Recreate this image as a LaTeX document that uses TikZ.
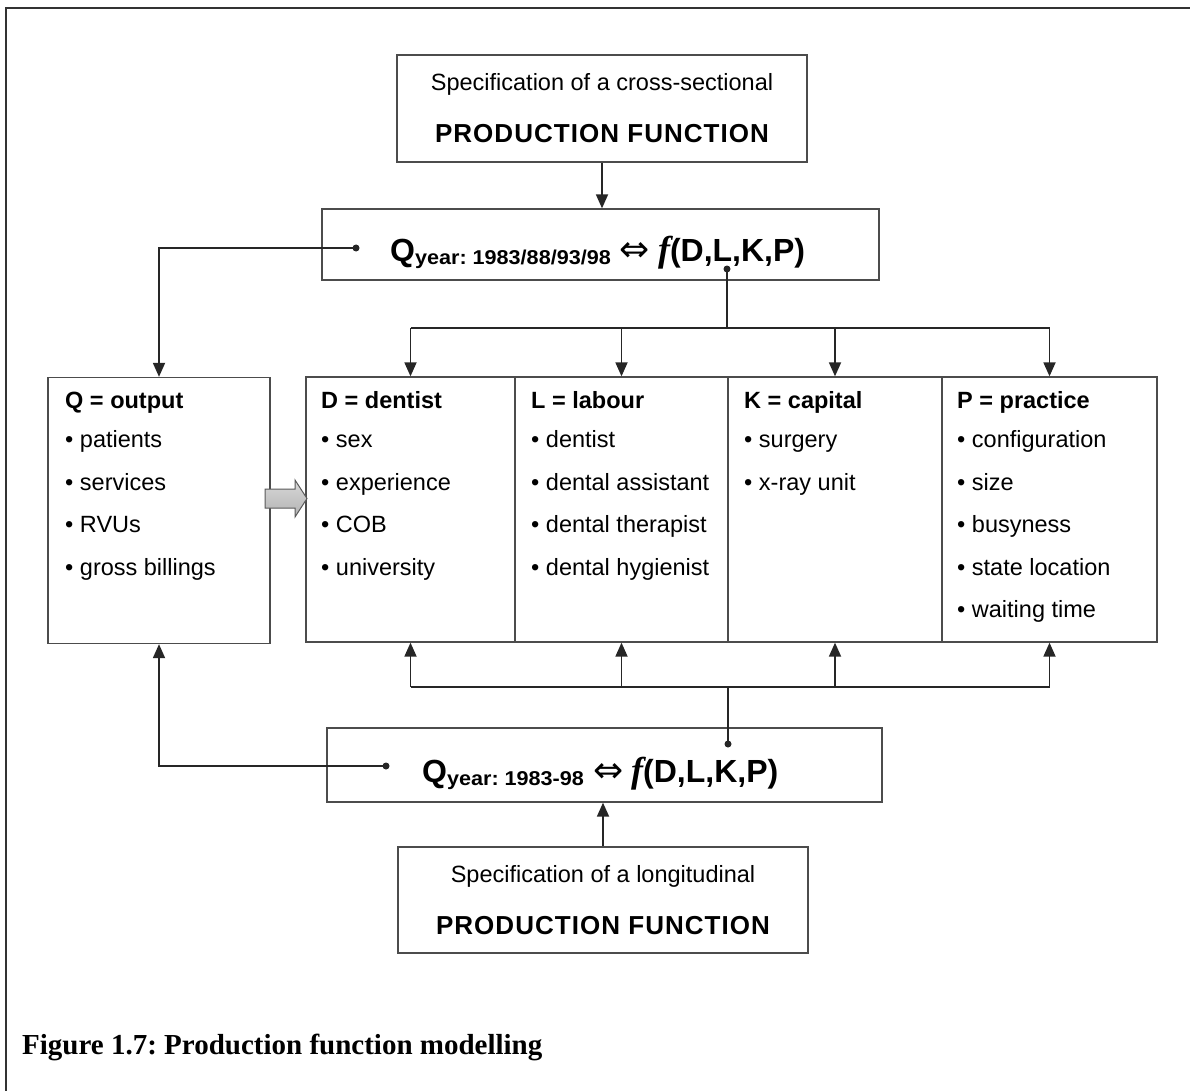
\documentclass[tikz,border=0pt]{standalone}
\usepackage{fontspec}
\usepackage{graphicx}
\setmainfont{Liberation Sans}
\newfontfamily\capfont{Liberation Serif}
\newfontfamily\symfont{DejaVu Sans}
\newfontfamily\spacedfont[LetterSpace=4]{Liberation Sans}
\usetikzlibrary{arrows.meta}
\newcommand{\ffun}{{\capfont\bfseries\itshape\fontsize{36}{38}\selectfont f}}
\newcommand{\eqv}{{\symfont\mdseries\fontsize{36}{40}\selectfont ⇔}}
\frenchspacing
\begin{document}
\begin{tikzpicture}[x=1pt,y=-1pt,
  box/.style={draw=black!70, line width=1.3pt, inner sep=0, fill=none},
  txt/.style={inner sep=0, font=\fontsize{23.5}{28}\selectfont},
  item/.style={txt, anchor=base west},
  head/.style={txt, anchor=base west, font=\fontsize{23.5}{28}\selectfont\bfseries},
  title/.style={inner sep=0, anchor=base, font=\spacedfont\fontsize{26}{30}\selectfont\bfseries},
  ftxt/.style={inner sep=0, anchor=base west, font=\fontsize{32}{38}\selectfont\bfseries},
  conn/.style={line width=1.8pt, black!85},
  arr/.style={conn, -{Triangle[length=14pt, width=12pt]}},
  dot/.style={circle, fill=black!85, inner sep=0, minimum size=7pt}]
\useasboundingbox (0,0) rectangle (1190,1091);
% outer frame (partial)
\draw[line width=2pt, black!80] (6,1091) -- (6,8) -- (1190,8);

% boxes
\node[box, minimum width=410, minimum height=107] (top) at (602,108.5) {};
\node[box, minimum width=557, minimum height=71] (f1box) at (600.5,244.5) {};
\node[box, minimum width=222, minimum height=266] (qbox) at (159,510.5) {};
\node[box, minimum width=209, minimum height=265] (dbox) at (410.5,509.5) {};
\node[box, minimum width=213, minimum height=265] (lbox) at (621.5,509.5) {};
\node[box, minimum width=214, minimum height=265] (kbox) at (835,509.5) {};
\node[box, minimum width=215, minimum height=265] (pbox) at (1049.5,509.5) {};
\node[box, minimum width=555, minimum height=74] (f2box) at (604.5,765) {};
\node[box, minimum width=410, minimum height=106] (bot) at (603,900) {};

% top box text
\node[txt, anchor=base] (t1) at (602,91) {Specification of a cross-sectional};
\node[title] (t2) at (602,143) {PRODUCTION FUNCTION};
% bottom box text
\node[txt, anchor=base] (b1) at (603,882) {Specification of a longitudinal};
\node[title] (b2) at (603,934) {PRODUCTION FUNCTION};

% formulas
\node[ftxt] (f1) at (390,261) {Q\raisebox{-3pt}{\fontsize{20}{22}\selectfont\scalebox{1.08}[1]{year: 1983/88/93/98}}\hspace{9pt}\eqv\hspace{8pt}\ffun(D,L,K,P)};
\node[ftxt] (f2) at (422,782) {Q\raisebox{-3pt}{\fontsize{20}{22}\selectfont\scalebox{1.08}[1]{year: 1983-98}}\hspace{9pt}\eqv\hspace{8pt}\ffun(D,L,K,P)};

% column texts
\node[head] (qh) at (65,408) {Q = output};
\foreach \t [count=\i] in {patients, services, RVUs, gross billings}
  \node[item] (q\i) at (65,{447.5+42.5*(\i-1)}) {• \t};
\node[head] (dh) at (321,408) {D = dentist};
\foreach \t [count=\i] in {sex, experience, COB, university}
  \node[item] (d\i) at (321,{447.5+42.5*(\i-1)}) {• \t};
\node[head] (lh) at (531,408) {L = labour};
\foreach \t [count=\i] in {dentist, dental assistant, dental therapist, dental hygienist}
  \node[item] (l\i) at (531,{447.5+42.5*(\i-1)}) {• \t};
\node[head] (kh) at (744,408) {K = capital};
\foreach \t [count=\i] in {surgery, x-ray unit}
  \node[item] (k\i) at (744,{447.5+42.5*(\i-1)}) {• \t};
\node[head] (ph) at (957,408) {P = practice};
\foreach \t [count=\i] in {configuration, size, busyness, state location, waiting time}
  \node[item] (p\i) at (957,{447.5+42.5*(\i-1)}) {• \t};

% dots
\node[dot] (d1) at (356,248) {};
\node[dot] (d2) at (727,269) {};
\node[dot] (d3) at (728,744) {};
\node[dot] (d4) at (386,766) {};
\coordinate (busT) at (727,328);
\coordinate (busB) at (728,687);

% connectors
\draw[arr] (top.south) -- (top.south |- f1box.north);
\draw[arr] (bot.north) -- (bot.north |- f2box.south);
\draw[arr] (d1.center) -| (qbox.north);
\draw[arr] (d4.center) -| (qbox.south);
\draw[conn] (d2.center) -- (busT);
\draw[conn] (dbox.north |- busT) -- (pbox.north |- busT);
\foreach \b in {dbox,lbox,kbox,pbox}
  \draw[arr] (\b.north |- busT) -- (\b.north);
\draw[conn] (d3.center) -- (busB);
\draw[conn] (dbox.south |- busB) -- (pbox.south |- busB);
\foreach \b in {dbox,lbox,kbox,pbox}
  \draw[arr] (\b.south |- busB) -- (\b.south);

% gray block arrow
\shadedraw[top color=gray!30, bottom color=gray!60, draw=black!65, line width=1pt]
  (265,489) -- (295,489) -- (295,480) -- (307,498.5) -- (295,517) -- (295,508) -- (265,508) -- cycle;

% caption
\node[inner sep=0, anchor=base west, font=\capfont\bfseries\fontsize{29}{32}\selectfont] (cap) at (22,1054) {Figure 1.7: Production function modelling};
\end{tikzpicture}
\end{document}
